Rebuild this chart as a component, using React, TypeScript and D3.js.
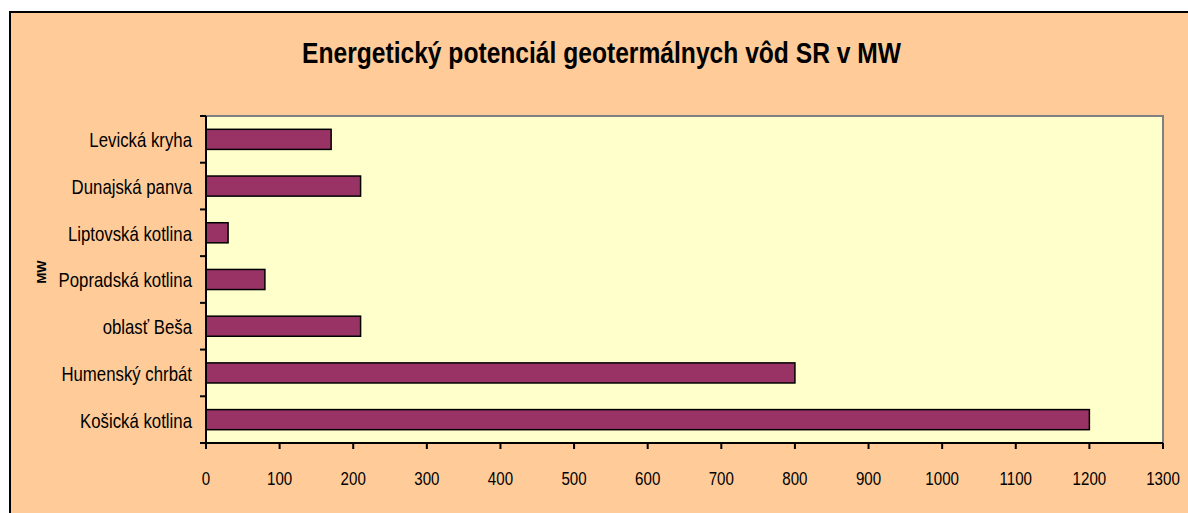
import React, { useRef, useEffect } from 'react';
import * as d3 from 'd3';

const categories = [
  'Levická kryha',
  'Dunajská panva',
  'Liptovská kotlina',
  'Popradská kotlina',
  'oblasť Beša',
  'Humenský chrbát',
  'Košická kotlina',
];
const values = [170, 210, 30, 80, 210, 800, 1200];
const xTicks = d3.range(0, 1301, 100);
const title = 'Energetický potenciál geotermálnych vôd SR v MW';
const axisTitle = 'MW';

export default function App() {
  const ref = useRef<SVGSVGElement>(null);
  useEffect(() => {
    const W = 1188, H = 513;
    const svg = d3.select(ref.current);
    svg.selectAll('*').remove();
    svg.attr('width', W).attr('height', H).attr('viewBox', `0 0 ${W} ${H}`);

    const font = '"Liberation Sans", Arial, sans-serif';
    const left = 206, right = 1163, top = 116, bottom = 443;

    // chart area (cropped on the right and bottom)
    svg.append('rect').attr('x', 0).attr('y', 0).attr('width', W).attr('height', H).attr('fill', '#fff');
    svg.append('rect')
      .attr('x', 10).attr('y', 12).attr('width', W + 10).attr('height', H + 10)
      .attr('fill', '#FFCC99').attr('stroke', '#000').attr('stroke-width', 2);

    svg.append('text')
      .attr('x', 302).attr('y', 63)
      .attr('font-family', font).attr('font-weight', 'bold').attr('font-size', 29)
      .attr('textLength', 599).attr('lengthAdjust', 'spacingAndGlyphs')
      .attr('fill', '#000')
      .text(title);

    const x = d3.scaleLinear().domain([0, 1300]).range([left, right]);
    const y = d3.scaleBand<string>().domain(categories).range([top, bottom])
      .paddingInner(0.57).paddingOuter(0.285);

    // plot area
    svg.append('rect')
      .attr('x', left).attr('y', top).attr('width', right - left).attr('height', bottom - top)
      .attr('fill', '#FFFFCC').attr('stroke', '#808080').attr('stroke-width', 2);

    svg.append('g').selectAll('rect').data(values).join('rect')
      .attr('x', x(0))
      .attr('y', (_, i) => y(categories[i])!)
      .attr('width', d => x(d) - x(0))
      .attr('height', y.bandwidth())
      .attr('fill', '#993366').attr('stroke', '#000').attr('stroke-width', 1.5);

    // axes
    const ax = svg.append('g').attr('stroke', '#000').attr('stroke-width', 2);
    ax.append('line').attr('x1', left).attr('x2', left).attr('y1', top).attr('y2', bottom);
    ax.append('line').attr('x1', left).attr('x2', right).attr('y1', bottom).attr('y2', bottom);
    const step = (bottom - top) / categories.length;
    d3.range(categories.length + 1).forEach(i => {
      ax.append('line').attr('x1', left - 6).attr('x2', left)
        .attr('y1', top + i * step).attr('y2', top + i * step);
    });
    xTicks.forEach(t => {
      ax.append('line').attr('x1', x(t)).attr('x2', x(t)).attr('y1', bottom).attr('y2', bottom + 6);
    });

    // narrow-looking labels: larger font squeezed horizontally
    svg.append('g').selectAll('text').data(categories).join('text')
      .attr('x', 192)
      .attr('y', d => y(d)! + y.bandwidth() / 2 + 8)
      .attr('text-anchor', 'end')
      .attr('font-family', font).attr('font-size', 20)
      .attr('transform-origin', d => `192 ${y(d)! + y.bandwidth() / 2}`)
      .attr('transform', 'scale(0.84,1)')
      .attr('fill', '#000')
      .text(d => d);

    svg.append('g').selectAll('text').data(xTicks).join('text')
      .attr('x', d => x(d))
      .attr('y', 485)
      .attr('text-anchor', 'middle')
      .attr('font-family', font).attr('font-size', 18)
      .attr('transform-origin', d => `${x(d)} 485`)
      .attr('transform', 'scale(0.84,1)')
      .attr('fill', '#000')
      .text(d => String(d));

    svg.append('text')
      .attr('transform', 'translate(45.5,272) rotate(-90)')
      .attr('text-anchor', 'middle')
      .attr('font-family', font).attr('font-weight', 'bold').attr('font-size', 13)
      .attr('fill', '#000')
      .text(axisTitle);
  }, []);
  return <svg ref={ref} style={{ position: 'absolute', left: 0, top: 0, display: 'block' }} />;
}
